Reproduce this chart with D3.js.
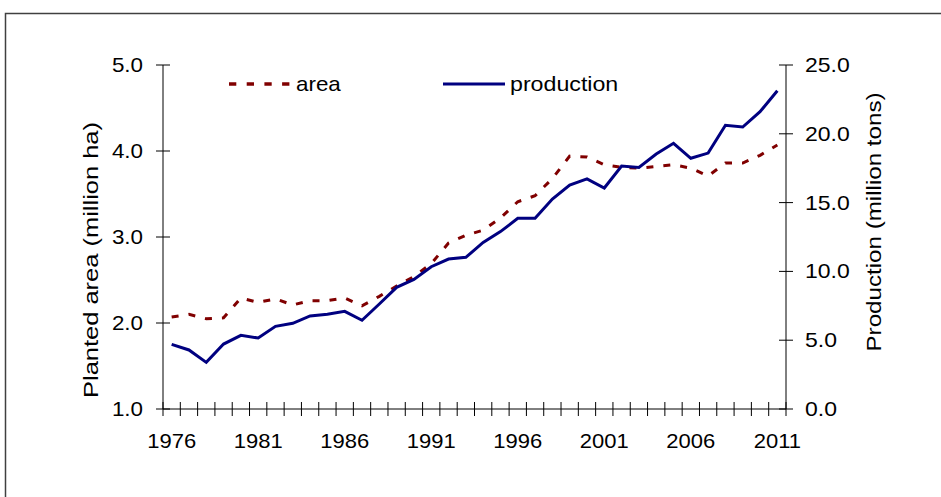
<!DOCTYPE html>
<html><head><meta charset="utf-8">
<script src="https://cdn.jsdelivr.net/npm/d3@7"></script>
<style>body{margin:0;background:#fff}text{font-family:Arial,"Liberation Sans",sans-serif;fill:#000}</style>
</head><body><svg id="c" width="941" height="497"></svg>
<script>
const years = d3.range(1976, 2012);
const area = [2.07,2.10,2.05,2.06,2.29,2.24,2.28,2.21,2.26,2.26,2.29,2.20,2.31,2.43,2.54,2.69,2.93,3.02,3.08,3.22,3.41,3.48,3.68,3.94,3.93,3.84,3.81,3.80,3.82,3.84,3.80,3.71,3.86,3.86,3.95,4.07];
const production = [4.70,4.29,3.39,4.72,5.35,5.16,6.01,6.23,6.76,6.88,7.10,6.45,7.63,8.84,9.42,10.34,10.90,11.02,12.11,12.89,13.86,13.86,15.26,16.28,16.72,16.06,17.66,17.56,18.53,19.31,18.22,18.60,20.62,20.49,21.61,23.13];
const leftTicks = [1,2,3,4,5];
const rightTicks = [0,5,10,15,20,25];
const xLabels = [1976,1981,1986,1991,1996,2001,2006,2011];

const svg = d3.select("#c");
svg.append("rect").attr("x",5.5).attr("y",13.5).attr("width",960).attr("height",520)
  .attr("fill","none").attr("stroke","#404040").attr("stroke-width",1.5);

const L=163, R=786, T=65, B=409;
const x = d3.scaleBand().domain(years).range([L,R]);
const yL = d3.scaleLinear().domain([1,5]).range([B,T]);
const yR = d3.scaleLinear().domain([0,25]).range([B,T]);
const fs = 20;

function txt(px, py, s, anchor, sx, rot){
  const g = svg.append("g").attr("transform",`translate(${px},${py})` + (rot?` rotate(${rot})`:"") + ` scale(${sx},1)`);
  return g.append("text").attr("x",0).attr("y",0).attr("text-anchor",anchor).attr("font-size",fs).text(s);
}

// left axis
svg.append("line").attr("x1",L).attr("x2",L).attr("y1",T).attr("y2",B).attr("stroke","#000");
leftTicks.forEach(v=>{
  svg.append("line").attr("x1",L-7).attr("x2",L+7).attr("y1",yL(v)).attr("y2",yL(v)).attr("stroke","#000");
  txt(143, yL(v)+7, d3.format(".1f")(v), "end", 1.12);
});
// right axis
svg.append("line").attr("x1",R).attr("x2",R).attr("y1",T).attr("y2",B).attr("stroke","#000");
rightTicks.forEach(v=>{
  svg.append("line").attr("x1",R-7).attr("x2",R+7).attr("y1",yR(v)).attr("y2",yR(v)).attr("stroke","#000");
  txt(805, yR(v)+7, d3.format(".1f")(v), "start", 1.15);
});
// x axis
svg.append("line").attr("x1",L).attr("x2",R).attr("y1",B).attr("y2",B).attr("stroke","#000");
years.forEach(yr=>{
  const xx = x(yr);
  svg.append("line").attr("x1",xx).attr("x2",xx).attr("y1",B-7).attr("y2",B+7).attr("stroke","#000");
});
svg.append("line").attr("x1",R).attr("x2",R).attr("y1",B-7).attr("y2",B+7).attr("stroke","#000");
xLabels.forEach(yr=>{
  txt(x(yr)+x.bandwidth()/2, 448, yr, "middle", 1.1);
});

// axis titles
svg.append("text").attr("transform","translate(98,260) rotate(-90)").attr("text-anchor","middle")
  .attr("font-size",20).attr("textLength",276).attr("lengthAdjust","spacingAndGlyphs").text("Planted area (million ha)");
svg.append("text").attr("transform","translate(881,222) rotate(-90)").attr("text-anchor","middle")
  .attr("font-size",20).attr("textLength",259).attr("lengthAdjust","spacingAndGlyphs").text("Production (million tons)");

const cx = d=>x(d)+x.bandwidth()/2;
const lineA = d3.line().x((d,i)=>cx(years[i])).y(d=>yL(d));
const lineP = d3.line().x((d,i)=>cx(years[i])).y(d=>yR(d));
svg.append("path").attr("d",lineA(area)).attr("fill","none").attr("stroke","#800000")
  .attr("stroke-width",3).attr("stroke-dasharray","7,10");
svg.append("path").attr("d",lineP(production)).attr("fill","none").attr("stroke","#000080")
  .attr("stroke-width",3);

// legend
svg.append("line").attr("x1",229).attr("x2",292).attr("y1",84).attr("y2",84).attr("stroke","#800000")
  .attr("stroke-width",3.5).attr("stroke-dasharray","7.3,10.4");
txt(296, 91, "area", "start", 1.12);
svg.append("line").attr("x1",443).attr("x2",505).attr("y1",84).attr("y2",84).attr("stroke","#000080")
  .attr("stroke-width",3);
txt(510, 91, "production", "start", 1.16);
</script></body></html>
